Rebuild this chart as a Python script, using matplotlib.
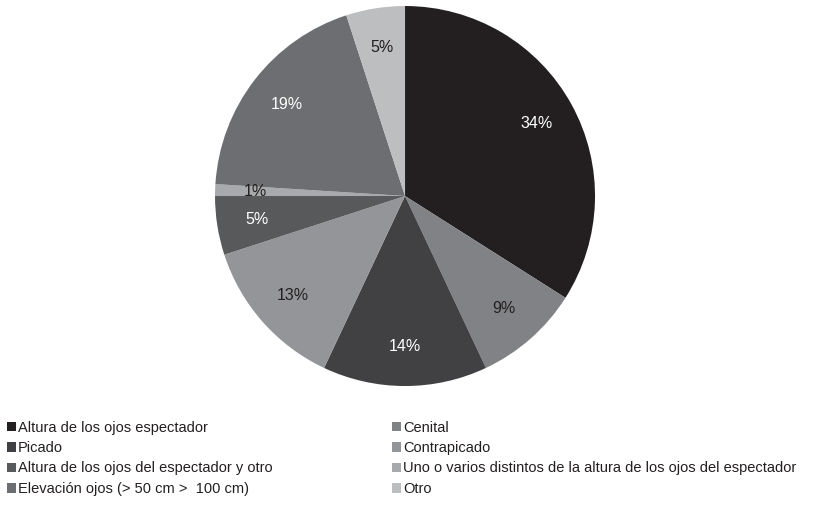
import matplotlib
matplotlib.use("Agg")
import matplotlib.pyplot as plt
from matplotlib.patches import Patch

plt.rcParams['font.family'] = ['Liberation Sans', 'DejaVu Sans']

# datos (porcentajes, sentido horario desde las 12)
categorias = [
    "Altura de los ojos espectador",
    "Cenital",
    "Picado",
    "Contrapicado",
    "Altura de los ojos del espectador y otro",
    "Uno o varios distintos de la altura de los ojos del espectador",
    "Elevación ojos (> 50 cm >  100 cm)",
    "Otro",
]
valores = [34, 9, 14, 13, 5, 1, 19, 5]
colores = ["#231f20", "#808285", "#414042", "#939598",
           "#58595b", "#a7a9ac", "#6d6e71", "#bcbec0"]
color_texto = ["white", "#231f20", "white", "#231f20",
               "white", "#231f20", "white", "#231f20"]

fig = plt.figure(figsize=(8.16, 5.05), dpi=100)
ax = fig.add_axes([0.2635, 0.2356, 0.4657, 0.7525])

wedges, texts, autotexts = ax.pie(
    valores, colors=colores, startangle=90, counterclock=False,
    autopct=lambda p: f"{p:.0f}%", pctdistance=0.79,
    wedgeprops=dict(linewidth=0),
    textprops=dict(fontsize=11.5),
)
for t, c in zip(autotexts, color_texto):
    t.set_color(c)
ax.set_xlim(-1, 1)
ax.set_ylim(-1, 1)
ax.set_aspect("equal")

# leyenda en dos columnas (orden por filas)
def hacer_leyenda(indices, x):
    handles = [Patch(facecolor=colores[i], edgecolor="none") for i in indices]
    labels = [categorias[i] for i in indices]
    fig.legend(handles, labels, loc="upper left", bbox_to_anchor=(x, 0.167),
               frameon=False, fontsize=10.5, handlelength=0.65, handleheight=0.65,
               handletextpad=0.12, labelspacing=0.44, borderpad=0, borderaxespad=0,
               labelcolor="#231f20")

hacer_leyenda([0, 2, 4, 6], 7 / 816)
hacer_leyenda([1, 3, 5, 7], 392 / 816)

fig.savefig("out.png", dpi=100)
